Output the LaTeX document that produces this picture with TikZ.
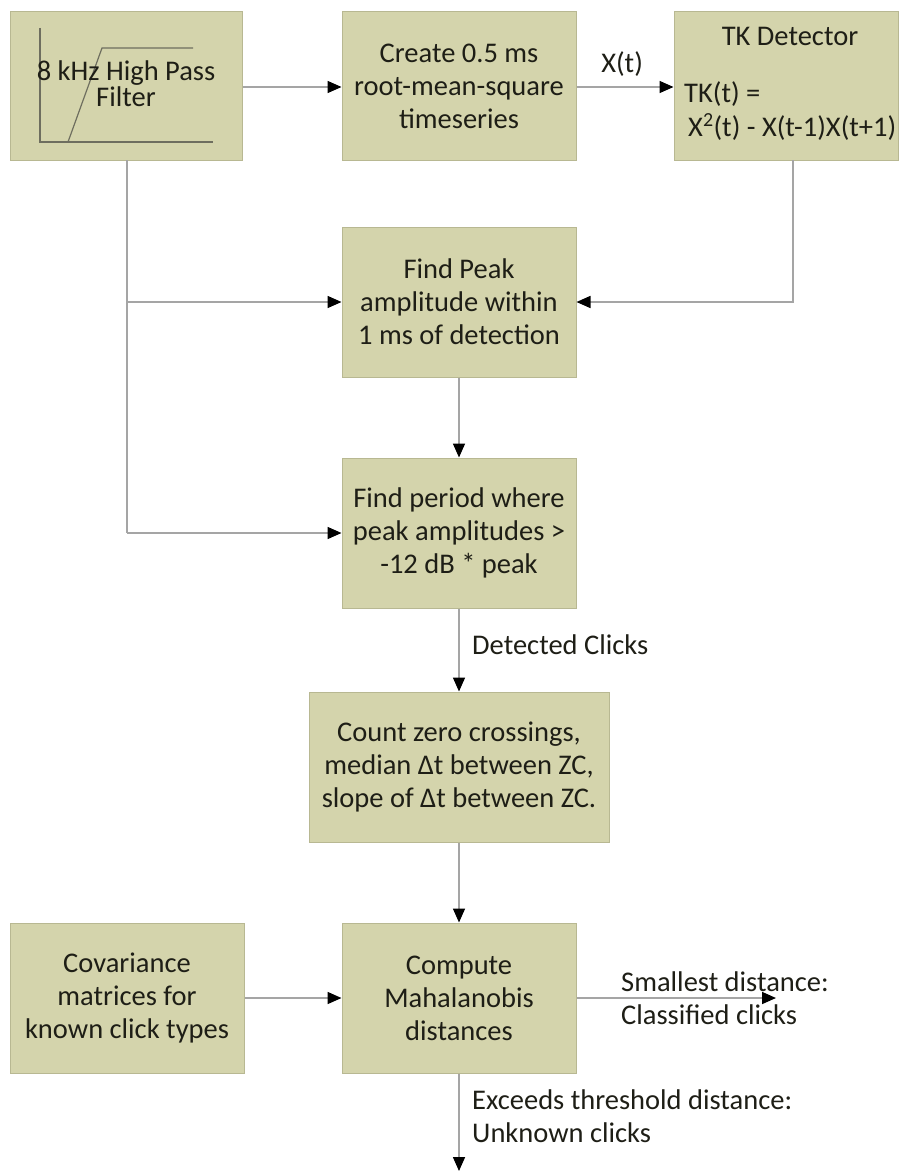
\documentclass[tikz,border=0pt]{standalone}
\usepackage{fontspec}
\setmainfont{Carlito}
\usetikzlibrary{arrows.meta}
\definecolor{boxfill}{RGB}{212,212,172}
\definecolor{boxedge}{RGB}{184,184,146}
\definecolor{txt}{RGB}{30,30,22}
\definecolor{conn}{RGB}{165,165,165}
\definecolor{filtline}{RGB}{110,110,95}
\tikzset{
  blk/.style={draw=boxedge, line width=1pt, fill=boxfill, text=txt, align=center,
    minimum width=234pt, minimum height=150pt, inner sep=0pt,
    font=\fontsize{28.5}{33}\selectfont},
  lbl/.style={text=txt, align=left, inner sep=0pt, font=\fontsize{28.5}{33}\selectfont},
  conn/.style={draw=conn, line width=1.6pt, -{Triangle[length=14pt,width=12pt,fill=black,color=black]}},
  plain/.style={draw=conn, line width=1.6pt},
  filt/.style={draw=filtline, line width=1.2pt}
}
\begin{document}
\begin{tikzpicture}[x=1pt,y=-1pt]
\useasboundingbox (0,0) rectangle (900,1172);
% boxes
\node[blk, minimum width=232pt, minimum height=148pt] (filt) at (126,86) {};
\node[blk, minimum height=148pt] (rms) at (459,86) {Create 0.5 ms\\root-mean-square\\timeseries};
\node[blk, minimum width=224pt, minimum height=148pt] (tk) at (786,86) {};
\node[blk] (peak) at (459,302) {Find Peak\\amplitude within\\1 ms of detection};
\node[blk] (period) at (459,533) {Find period where\\peak amplitudes >\\-12 dB * peak};
\node[blk, minimum width=300pt] (count) at (459,767) {Count zero crossings,\\median Δt between ZC,\\slope of Δt between ZC.};
\node[blk] (cov) at (127,998) {Covariance\\matrices for\\known click types};
\node[blk] (comp) at (459,998) {Compute\\Mahalanobis\\distances};
% filter sketch
\draw[filt] (40,28) -- (40,142) -- (213,142);
\draw[filt] (68,142) -- (102,48) -- (193,48);
\node[lbl, align=center, font=\fontsize{28.5}{26}\selectfont] (filttxt) at (126,84) {8 kHz High Pass\\Filter};
% TK text
\node[lbl] (tktitle) at (790,36) {TK Detector};
\node[lbl, anchor=west] (tkeq1) at (684,94) {TK(t) =};
\node[lbl, anchor=west] (tkeq2) at (688,127) {X\textsuperscript{2}(t) - X(t-1)X(t+1)};
% coordinates
\coordinate (fdown) at (127,160);
\coordinate (j1) at (127,302);
\coordinate (j2) at (127,533);
\coordinate (tkdown) at (793,160);
\coordinate (tkcorner) at (793,302);
\coordinate (outright) at (776,998);
\coordinate (outdown) at (459,1171);
% connectors
\draw[conn] (filt.east |- 0,87) -- (rms.west |- 0,87);
\draw[conn] (rms.east |- 0,87) -- node[lbl, above=10pt, pos=0.47] (xt) {X(t)} (tk.west |- 0,87);
\draw[plain] (fdown) -- (j2);
\draw[conn] (j1) -- (peak.west);
\draw[conn] (j2) -- (period.west);
\draw[conn] (tkdown) -- (tkcorner) -- (peak.east);
\draw[conn] (peak.south) -- (period.north);
\draw[conn] (period.south) -- (count.north);
\node[lbl, anchor=west] (det) at (472,645) {Detected Clicks};
\draw[conn] (count.south) -- (comp.north);
\draw[conn] (cov.east) -- (comp.west);
\draw[conn] (comp.east) -- (outright);
\node[lbl, anchor=west] (small) at (621,998) {Smallest distance:\\Classified clicks};
\draw[conn] (comp.south) -- (outdown);
\node[lbl, anchor=west] (exceed) at (472,1116) {Exceeds threshold distance:\\Unknown clicks};
\end{tikzpicture}
\end{document}
